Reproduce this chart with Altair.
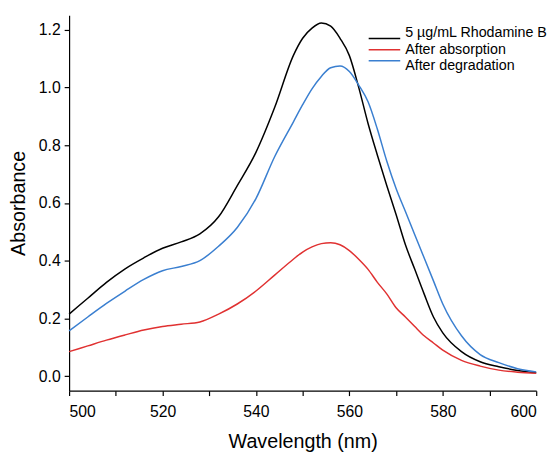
import altair as alt
import pandas as pd

wavelength = [500, 504, 508, 512, 516, 520, 524, 528, 532, 536, 540, 544, 548, 550,
              552, 554, 556, 558, 560, 562, 564, 566, 568, 570, 572, 574, 576, 578,
              580, 584, 588, 592, 596, 600]

rhodamine = [0.215, 0.27, 0.325, 0.372, 0.41, 0.443, 0.465, 0.493, 0.552, 0.66, 0.775, 0.93,
             1.11, 1.17, 1.205, 1.223, 1.212, 1.17, 1.11, 1.00, 0.875, 0.765, 0.66, 0.56,
             0.455, 0.37, 0.285, 0.205, 0.15, 0.085, 0.05, 0.033, 0.02, 0.012]

absorption = [0.085, 0.105, 0.125, 0.143, 0.16, 0.172, 0.18, 0.188, 0.215, 0.25, 0.295, 0.35,
              0.405, 0.43, 0.448, 0.459, 0.462, 0.455, 0.435, 0.405, 0.37, 0.325, 0.285, 0.237,
              0.205, 0.172, 0.14, 0.115, 0.09, 0.055, 0.035, 0.021, 0.014, 0.01]

degradation = [0.157, 0.205, 0.252, 0.295, 0.335, 0.365, 0.38, 0.40, 0.45, 0.515, 0.615, 0.76,
               0.88, 0.94, 0.995, 1.038, 1.068, 1.074, 1.055, 1.008, 0.95, 0.855, 0.745, 0.65,
               0.57, 0.49, 0.41, 0.33, 0.25, 0.14, 0.075, 0.047, 0.026, 0.015]

series_names = ["5 µg/mL Rhodamine B", "After absorption", "After degradation"]
series_colors = ["#000000", "#e03131", "#3a7fd0"]

rows = []
for name, vals in zip(series_names, [rhodamine, absorption, degradation]):
    for w, v in zip(wavelength, vals):
        rows.append({"Wavelength": w, "Absorbance": v, "Series": name})
df = pd.DataFrame(rows)
legend_df = pd.DataFrame({"Series": series_names})

x_ticks = list(range(500, 601, 10))
y_ticks = [0.0, 0.2, 0.4, 0.6, 0.8, 1.0, 1.2]

font = "Liberation Sans"
color_scale = alt.Scale(domain=series_names, range=series_colors)

lines = alt.Chart(df).mark_line(strokeWidth=1.5, interpolate="monotone").encode(
    x=alt.X("Wavelength:Q",
            scale=alt.Scale(domain=[500, 600], nice=False, zero=False),
            axis=alt.Axis(title="Wavelength (nm)", values=x_ticks,
                          labelExpr="datum.value % 20 == 0 ? datum.label : ''",
                          format="d", grid=False, tickSize=5, labelPadding=8,
                          titlePadding=13)),
    y=alt.Y("Absorbance:Q",
            scale=alt.Scale(domain=[-0.05, 1.25], nice=False, zero=False),
            axis=alt.Axis(title="Absorbance", values=y_ticks, format=".1f",
                          grid=False, tickSize=5, labelPadding=4, titlePadding=10)),
    color=alt.Color("Series:N", scale=color_scale, legend=None),
    order=alt.Order("Wavelength:Q"),
)

leg_y = alt.Y("Series:N", scale=alt.Scale(domain=series_names, range=[18, 52], padding=0),
              axis=None)

legend_rules = alt.Chart(legend_df).mark_rule(strokeWidth=1.5).encode(
    x=alt.value(304), x2=alt.value(336), y=leg_y,
    color=alt.Color("Series:N", scale=color_scale, legend=None),
)

legend_text = alt.Chart(legend_df).mark_text(
    align="left", baseline="middle", font=font, fontSize=14.5, color="#000000"
).encode(
    x=alt.value(341), y=leg_y, text="Series:N",
)

chart = alt.layer(lines, legend_rules, legend_text).resolve_scale(
    y="independent"
).properties(
    width=474, height=381,
    autosize=alt.AutoSizeParams(type="none"),
    padding={"left": 62, "top": 4, "right": 15, "bottom": 61},
).configure_view(
    stroke=None
).configure_axis(
    labelFont=font, titleFont=font, labelFontSize=16, titleFontSize=20,
    titleFontWeight="normal", labelColor="#000000", titleColor="#000000",
    domainColor="#000000", tickColor="#000000", domainWidth=1.2, tickWidth=1.2,
)

chart.save("out.html", embed_options={"renderer": "svg", "actions": False})
